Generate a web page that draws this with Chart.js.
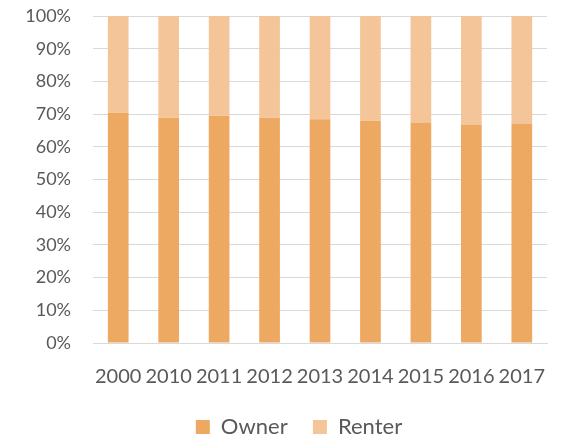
<!DOCTYPE html>
<html>
<head>
<meta charset="utf-8">
<script src="https://cdn.jsdelivr.net/npm/chart.js@4/dist/chart.umd.min.js"></script>
<style>
html,body{margin:0;padding:0;background:#fff;}
#wrap{width:568px;height:439px;}
</style>
</head>
<body>
<div id="wrap"><canvas id="c" width="568" height="439"></canvas></div>
<script>
const categories = ['2000','2010','2011','2012','2013','2014','2015','2016','2017'];
const ownerShare = [70.4, 68.9, 69.5, 68.9, 68.4, 68.0, 67.4, 66.8, 67.1];
const renterShare = [29.6, 31.1, 30.5, 31.1, 31.6, 32.0, 32.6, 33.2, 32.9];
const yTicks = [0,10,20,30,40,50,60,70,80,90,100];

const FONT = 'Lato, "Open Sans", sans-serif';
const TXT = '#595959';

const legendShift = {
  id: 'legendShift',
  afterLayout(chart) {
    const l = chart.legend;
    if (!l) return;
    const dx = 24, dy = 9;
    l.left += dx; l.right += dx; l.top += dy; l.bottom += dy;
  }
};

new Chart(document.getElementById('c'), {
  type: 'bar',
  data: {
    labels: categories,
    datasets: [
      {label:'Owner', data: ownerShare, backgroundColor:'#EDA862', borderWidth:0,
       barPercentage:0.41, categoryPercentage:1},
      {label:'Renter', data: renterShare, backgroundColor:'#F4C598', borderWidth:0,
       barPercentage:0.41, categoryPercentage:1}
    ]
  },
  plugins: [legendShift],
  options: {
    responsive:false,
    animation:false,
    devicePixelRatio:1,
    layout:{padding:{top:16,right:18,left:0,bottom:0}},
    plugins:{
      tooltip:{enabled:false},
      legend:{
        position:'bottom',
        labels:{
          boxWidth:14,boxHeight:14,padding:14,color:TXT,font:{family:FONT,size:22},
          generateLabels:(chart)=>{
            const items = Chart.defaults.plugins.legend.labels.generateLabels(chart);
            items.forEach((it,i)=>{ if(i < items.length-1) it.text = it.text + '  '; });
            return items;
          }
        }
      }
    },
    scales:{
      x:{
        stacked:true,
        grid:{display:false,drawTicks:false},
        border:{display:true,color:'#d9d9d9',width:1},
        ticks:{color:TXT,padding:22,font:{family:FONT,size:20},maxRotation:0,autoSkip:false},
        afterFit:(s)=>{s.height=50;}
      },
      y:{
        stacked:true,
        min:0,max:100,
        afterBuildTicks:(s)=>{s.ticks = yTicks.map(v=>({value:v}));},
        grid:{color:'#d9d9d9',lineWidth:1,drawTicks:false},
        border:{display:false},
        ticks:{color:TXT,padding:22,font:{family:FONT,size:18},callback:(v)=>v+'%'},
        afterFit:(s)=>{s.width=93; s.paddingTop=0; s.paddingBottom=0;}
      }
    }
  }
});
</script>
</body>
</html>
